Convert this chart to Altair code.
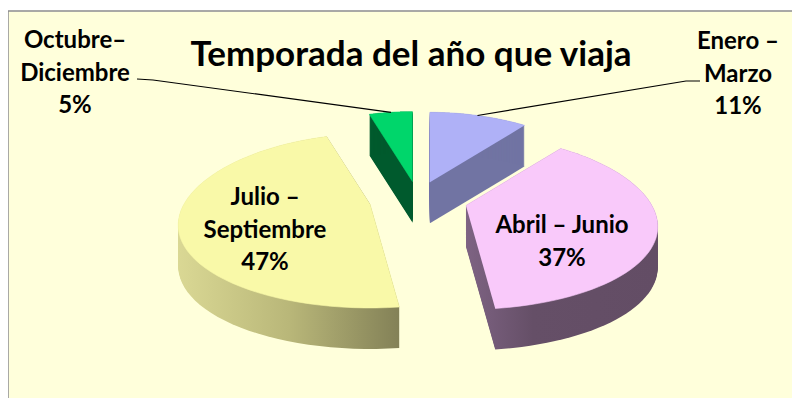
import altair as alt
import pandas as pd

# ---------------- data ----------------
categories = ["Enero – Marzo", "Abril – Junio", "Julio – Septiembre", "Octubre–Diciembre"]
values = [11, 37, 47, 5]
label_names = ["Enero –\nMarzo", "Abril – Junio", "Julio –\nSeptiembre", "Octubre–\nDiciembre"]
title_text = "Temporada del año que viaja"

# ---------------- styles / layout ----------------
top_colors = ["#AFB1F7", "#F9C9FA", "#F9F9A8", "#00D66B"]
side_fills = [
    "#7174A3",
    alt.Gradient(gradient="linear", x1=0, x2=1, y1=0, y2=0,
                 stops=[alt.GradientStop(color="#7E6383", offset=0),
                        alt.GradientStop(color="#654F67", offset=0.35),
                        alt.GradientStop(color="#634D65", offset=1)]),
    alt.Gradient(gradient="linear", x1=0, x2=1, y1=0, y2=0,
                 stops=[alt.GradientStop(color="#DAD894", offset=0),
                        alt.GradientStop(color="#B9B779", offset=0.5),
                        alt.GradientStop(color="#838157", offset=1)]),
    "#005A2D",
]
draw_order = [3, 0, 2, 1]  # back slices first
label_pos = [(738, 42), (562, 226), (265, 198), (75, 41)]  # first-line centres
leader_pts = {0: [(700, 81), (686, 81)], 3: [(137, 79), (153, 80)]}

CX, CY = 418, 199
RX, PERSP, RYM, RYD = 186, 0.26, 87, 17
EXPL, DEPTH, NPTS = 0.25, 41, 60
W, H, PADTOP = 784, 387, 3
BG = "#FFFFDB"

xs = alt.Scale(domain=[8, 8 + W], nice=False, zero=False)
ys = alt.Scale(domain=[11, 11 + H], nice=False, zero=False, reverse=True)


def px(a):
    return f"({RX}*sin({a})*(1-{PERSP}*cos({a})))"


def py(a):
    return f"(-cos({a})*({RYM}-{RYD}*cos({a})))"


data = pd.DataFrame({"cat": categories, "value": values, "idx": list(range(len(values)))})


def base(df):
    return (
        alt.Chart(df)
        .transform_window(cum="sum(value)", sort=[alt.SortField("idx")])
        .transform_joinaggregate(total="sum(value)")
        .transform_calculate(a0="2*PI*(datum.cum-datum.value)/datum.total",
                             a1="2*PI*datum.cum/datum.total")
        .transform_calculate(b="(datum.a0+datum.a1)/2")
        .transform_calculate(ox=f"{CX}+{EXPL}*" + px("datum.b"),
                             oy=f"{CY}+{EXPL}*" + py("datum.b"))
    )


def wedge(i, side):
    c = (
        base(data)
        .transform_calculate(s=f"sequence(0,{NPTS + 2})")
        .transform_flatten(["s"])
        .transform_calculate(t=f"datum.a0+(datum.a1-datum.a0)*(datum.s-1)/{NPTS}")
        .transform_calculate(
            px="datum.s==0 ? datum.ox : datum.ox+" + px("datum.t"),
            py="datum.s==0 ? datum.oy : datum.oy+" + py("datum.t"),
        )
        .transform_filter(f"datum.idx=={i}")
    )
    if side:
        c = (
            c.transform_calculate(k=f"sequence(0,{DEPTH + 1})")
            .transform_flatten(["k"])
            .transform_calculate(py2="datum.py+datum.k")
            .mark_line(fill=side_fills[i], strokeWidth=0, stroke=BG, strokeOpacity=0)
            .encode(
                x=alt.X("px:Q", scale=xs, axis=None),
                y=alt.Y("py2:Q", scale=ys, axis=None),
                detail="k:N",
                order="s:Q",
            )
        )
    else:
        c = c.mark_line(fill=top_colors[i], stroke=top_colors[i], strokeWidth=0.6).encode(
            x=alt.X("px:Q", scale=xs, axis=None),
            y=alt.Y("py:Q", scale=ys, axis=None),
            order="s:Q",
        )
    return c


layers = []
for i in draw_order:
    layers.append(wedge(i, True))
    layers.append(wedge(i, False))

# leader lines for outside labels
lead_rows = []
for i, pts in leader_pts.items():
    lead_rows.append({"idx": i, "l0x": pts[0][0], "l0y": pts[0][1], "l1x": pts[1][0], "l1y": pts[1][1]})
lead_df = pd.DataFrame(lead_rows)

leaders = (
    base(data)
    .transform_lookup(lookup="idx", from_=alt.LookupData(lead_df, "idx", ["l0x", "l0y", "l1x", "l1y"]))
    .transform_filter("isValid(datum.l0x)")
    .transform_calculate(s="sequence(0,3)")
    .transform_flatten(["s"])
    .transform_calculate(
        lx=f"datum.s==0 ? datum.l0x : datum.s==1 ? datum.l1x : datum.ox+" + px("datum.b"),
        ly=f"datum.s==0 ? datum.l0y : datum.s==1 ? datum.l1y : datum.oy+" + py("datum.b"),
    )
    .mark_line(color="#000000", strokeWidth=1.2)
    .encode(
        x=alt.X("lx:Q", scale=xs, axis=None),
        y=alt.Y("ly:Q", scale=ys, axis=None),
        detail="idx:N",
        order="s:Q",
    )
)
layers.append(leaders)

# labels
lab_df = pd.DataFrame({
    "text": [f"{n}\n{v}%" for n, v in zip(label_names, values)],
    "lx": [p[0] for p in label_pos],
    "ly": [p[1] for p in label_pos],
})
labels = alt.Chart(lab_df).mark_text(
    font="Lato", fontWeight="bold", fontSize=24, lineBreak="\n", lineHeight=32.5,
    align="center", baseline="middle", color="#000000",
).encode(
    x=alt.X("lx:Q", scale=xs, axis=None),
    y=alt.Y("ly:Q", scale=ys, axis=None),
    text="text:N",
)
layers.append(labels)

title_df = pd.DataFrame({"t": [title_text], "tx": [411], "ty": [55]})
title = alt.Chart(title_df).mark_text(
    font="Lato", fontWeight="bold", fontSize=35, align="center", baseline="middle", color="#000000"
).encode(
    x=alt.X("tx:Q", scale=xs, axis=None),
    y=alt.Y("ty:Q", scale=ys, axis=None),
    text="t:N",
)
layers.append(title)

# frame (left & top edges only; right/bottom fall outside the picture)
frame_left = alt.Chart(title_df).mark_rule(color="#8C8C8C", strokeWidth=1.5).encode(
    x=alt.value(0), y=alt.value(0), y2=alt.value(H))
frame_top = alt.Chart(title_df).mark_rule(color="#8C8C8C", strokeWidth=1.5).encode(
    x=alt.value(0), x2=alt.value(W), y=alt.value(0))
layers += [frame_left, frame_top]

chart = (
    alt.layer(*layers)
    .properties(width=W, height=H, padding={"left": 0, "top": PADTOP, "right": 0, "bottom": 0},
                autosize="none")
    .configure_view(fill=BG, stroke="transparent")
)

chart.save("out.html", embed_options={"renderer": "svg", "actions": False})
